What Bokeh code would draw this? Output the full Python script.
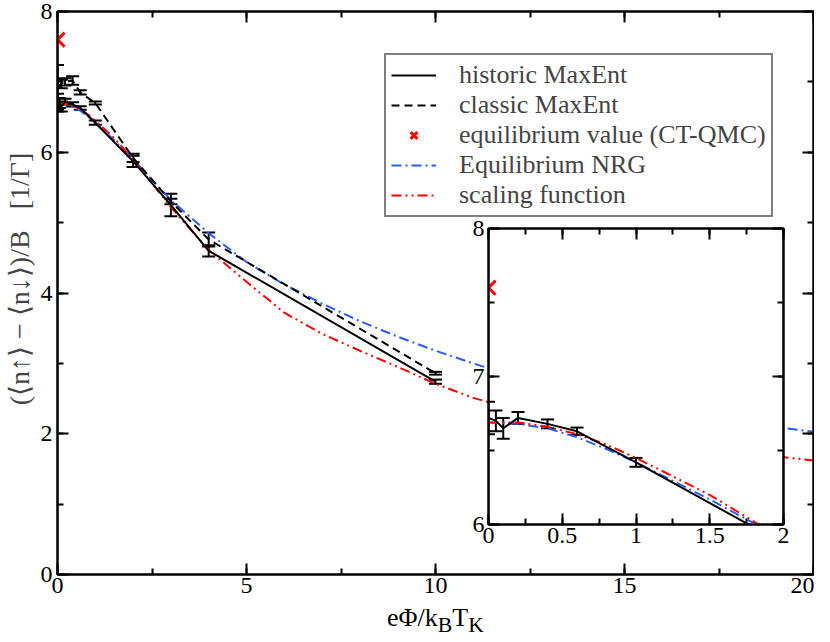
from bokeh.plotting import figure
from bokeh.models import (Range1d, LinearAxis, SingleIntervalTicker, Whisker, TeeHead,
                          ColumnDataSource, NumeralTickFormatter, GridBox, Div)
from bokeh.embed import file_html
from bokeh.resources import INLINE

FONT = "'Liberation Serif', 'Times New Roman', serif"
AX_FONT = "Liberation Serif"

# ---------------- data ----------------
hist_x = [0, 0.05, 0.1, 0.2, 0.4, 0.6, 1, 2, 3, 4, 10]
hist_y = [6.72, 6.70, 6.65, 6.72, 6.68, 6.63, 6.42, 5.87, 5.25, 4.60, 2.74]
hist_err = [0.11, 0.07, 0.07, 0.04, 0.03, 0.025, 0.03, 0.08, 0.16, 0.08, 0.03]

class_x = [0, 0.1, 0.2, 0.4, 0.6, 1, 2, 3, 4, 10]
class_y = [6.91, 6.97, 7.00, 7.02, 6.85, 6.70, 5.92, 5.30, 4.76, 2.86]
class_err = [0.33, 0.06, 0.05, 0.06, 0.03, 0.02, 0.06, 0.04, 0.10, 0.02]

eq_x = [0]
eq_y = [7.6]

nrg_x = [0, 0.2, 0.4, 0.6, 0.8, 1, 1.5, 2, 3, 4, 5, 6, 7, 8, 9, 10, 11, 12, 14, 16, 18, 20]
nrg_y = [6.69, 6.68, 6.65, 6.59, 6.51, 6.42, 6.17, 5.90, 5.32, 4.85, 4.44, 4.12, 3.85,
         3.60, 3.38, 3.18, 3.00, 2.83, 2.55, 2.33, 2.16, 2.03]

sc_x = [0, 0.2, 0.4, 0.6, 0.8, 1, 1.5, 2, 3, 4, 5, 6, 7, 8, 9, 10, 11, 12, 14, 16, 18, 20]
sc_y = [6.69, 6.69, 6.66, 6.61, 6.54, 6.45, 6.20, 5.90, 5.22, 4.61, 4.16, 3.72, 3.42,
        3.18, 2.95, 2.71, 2.51, 2.36, 2.10, 1.90, 1.74, 1.62]

legend_labels = ["historic MaxEnt", "classic MaxEnt", "equilibrium value (CT-QMC)",
                 "Equilibrium NRG", "scaling function"]
y_label = "\u00a0\u00a0\u00a0\u00a0(⟨n↑⟩ − ⟨n↓⟩)/B\u00a0\u00a0\u00a0[1/Γ]"
x_label_html = "eΦ/k<sub>B</sub>T<sub>K</sub>"

BLUE = "#2a5cff"
RED = "#ff0000"
TICK_FS = "24px"


def style_axis(ax, labels=True, size=TICK_FS, standoff=3):
    ax.major_tick_in = 11
    ax.major_tick_out = 0
    ax.minor_tick_in = 6
    ax.minor_tick_out = 0
    ax.major_tick_line_width = 2
    ax.minor_tick_line_width = 2
    ax.axis_line_width = 2
    ax.major_label_text_font = AX_FONT
    ax.major_label_text_color = "black"
    ax.axis_label_text_font = AX_FONT
    ax.axis_label_text_font_style = "normal"
    if labels:
        ax.major_label_text_font_size = size
        ax.major_label_standoff = standoff
    else:
        ax.major_label_text_font_size = "0px"
        ax.major_label_standoff = 0
        ax.major_label_text_color = None


def errsrc(xs, ys, es):
    return ColumnDataSource(dict(x=xs, y=ys,
                                 lo=[a - b for a, b in zip(ys, es)],
                                 hi=[a + b for a, b in zip(ys, es)]))


def add_whiskers(fig, src):
    w = Whisker(base="x", upper="hi", lower="lo", source=src, line_width=2, line_color="black",
                upper_head=TeeHead(size=13, line_width=2, line_color="black"),
                lower_head=TeeHead(size=13, line_width=2, line_color="black"))
    fig.add_layout(w)


# ---------------- main figure ----------------
W, H = 814, 626
p = figure(width=W, height=H, x_range=Range1d(0, 20), y_range=Range1d(0, 8),
           output_backend="svg", toolbar_location=None,
           min_border_left=56, min_border_right=1, min_border_top=11, min_border_bottom=52,
           background_fill_color="white", border_fill_color="white")
p.grid.visible = False
p.outline_line_color = "black"
p.outline_line_width = 2

p.xaxis.ticker = SingleIntervalTicker(interval=5, num_minor_ticks=2)
p.yaxis.ticker = SingleIntervalTicker(interval=2, num_minor_ticks=2)
style_axis(p.xaxis[0], standoff=3)
style_axis(p.yaxis[0], standoff=5)
p.yaxis.axis_label = y_label
p.yaxis.axis_label_text_font_size = "28px"
p.yaxis.axis_label_standoff = 3

top_ax = LinearAxis(ticker=SingleIntervalTicker(interval=5, num_minor_ticks=2))
style_axis(top_ax, labels=False)
p.add_layout(top_ax, "above")
right_ax = LinearAxis(ticker=SingleIntervalTicker(interval=2, num_minor_ticks=2))
style_axis(right_ax, labels=False)
p.add_layout(right_ax, "right")

hist_src = errsrc(hist_x, hist_y, hist_err)
class_src = errsrc(class_x, class_y, class_err)

p.line(nrg_x, nrg_y, line_color=BLUE, line_width=2, line_dash="10 4 2 4",
       legend_label=legend_labels[3])
p.line(sc_x, sc_y, line_color=RED, line_width=2, line_dash="10 4 2 4 2 4",
       legend_label=legend_labels[4])
p.line("x", "y", source=hist_src, line_color="black", line_width=2,
       legend_label=legend_labels[0])
p.line("x", "y", source=class_src, line_color="black", line_width=2, line_dash="8 5",
       legend_label=legend_labels[1])
add_whiskers(p, hist_src)
add_whiskers(p, class_src)
p.scatter(eq_x, eq_y, marker="x", size=20, line_width=3, line_color=RED,
          legend_label=legend_labels[2])

items = p.legend[0].items
order = {lab: i for i, lab in enumerate(legend_labels)}
p.legend[0].items = sorted(items, key=lambda it: order[it.label.value])

lg = p.legend[0]
lg.location = (327, 357)
lg.label_text_font = FONT
lg.label_text_font_size = "26px"
lg.label_text_line_height = 1.0
lg.label_standoff = 23
lg.glyph_width = 45
lg.glyph_height = 24
lg.label_height = 22
lg.spacing = 0
lg.padding = 5
lg.margin = 0
lg.border_line_color = "black"
lg.border_line_width = 2
lg.background_fill_color = "white"
lg.background_fill_alpha = 1.0

# ---------------- inset ----------------
ins = figure(width=335, height=341, x_range=Range1d(0, 2), y_range=Range1d(6, 8),
             output_backend="svg", toolbar_location=None,
             min_border_left=30, min_border_right=10, min_border_top=10, min_border_bottom=35,
             background_fill_color="white", border_fill_color=None)
ins.grid.visible = False
ins.outline_line_color = "black"
ins.outline_line_width = 2
ins.xaxis.ticker = SingleIntervalTicker(interval=0.5, num_minor_ticks=2)
ins.yaxis.ticker = SingleIntervalTicker(interval=1, num_minor_ticks=2)
ins.xaxis.formatter = NumeralTickFormatter(format="0.[0]")
style_axis(ins.xaxis[0], standoff=3)
style_axis(ins.yaxis[0], standoff=4)
t2 = LinearAxis(ticker=SingleIntervalTicker(interval=0.5, num_minor_ticks=2))
style_axis(t2, labels=False)
ins.add_layout(t2, "above")
r2 = LinearAxis(ticker=SingleIntervalTicker(interval=1, num_minor_ticks=2))
style_axis(r2, labels=False)
ins.add_layout(r2, "right")

ins_src = errsrc(hist_x, hist_y, hist_err)
ins.line(nrg_x, nrg_y, line_color=BLUE, line_width=2, line_dash="10 4 2 4")
ins.line(sc_x, sc_y, line_color=RED, line_width=2, line_dash="10 4 2 4 2 4")
ins.line("x", "y", source=ins_src, line_color="black", line_width=2)
add_whiskers(ins, ins_src)
ins.scatter(eq_x, eq_y, marker="x", size=20, line_width=3, line_color=RED)

# ---------------- x-axis title with subscripts ----------------
xt = Div(text=x_label_html, width=418, height=26, margin=0,
         styles={"font-family": "'Liberation Serif', serif", "font-size": "26px",
                 "line-height": "26px", "color": "black", "white-space": "nowrap",
                 "padding-left": "12px", "padding-top": "5px", "overflow": "visible"})

grid = GridBox(children=[(p, 0, 0, 4, 4), (ins, 1, 2, 1, 1), (xt, 3, 1, 1, 2)],
               rows=["218px", "341px", "41px", "26px"],
               cols=["375px", "83px", "335px", "21px"])

with open("out.html", "w") as f:
    f.write(file_html(grid, INLINE))
